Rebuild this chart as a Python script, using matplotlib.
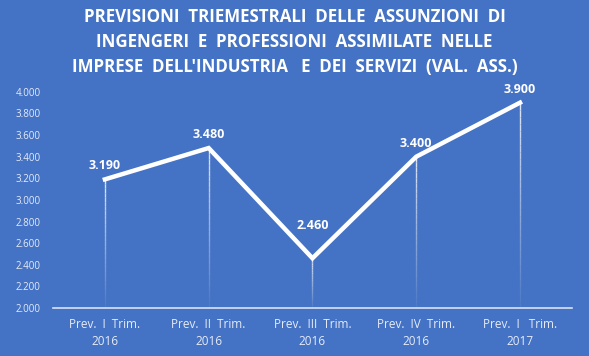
import numpy as np
import matplotlib.pyplot as plt

plt.rcParams['font.family'] = ['Open Sans', 'DejaVu Sans']

categories = ["Prev.  I  Trim.\n2016", "Prev.  II  Trim.\n2016", "Prev.  III  Trim.\n2016",
              "Prev.  IV  Trim.\n2016", "Prev.  I   Trim.\n2017"]
values = [3190, 3480, 2460, 3400, 3900]
labels = ["3.190", "3.480", "2.460", "3.400", "3.900"]
label_offsets = [5, 5, 19, 5, 5]
yticks = [2000, 2200, 2400, 2600, 2800, 3000, 3200, 3400, 3600, 3800, 4000]

bg = "#4472C4"
title = ("PREVISIONI  TRIEMESTRALI  DELLE  ASSUNZIONI  DI\n"
         "INGENGERI  E  PROFESSIONI  ASSIMILATE  NELLE\n"
         "IMPRESE  DELL'INDUSTRIA   E  DEI  SERVIZI  (VAL.  ASS.)")

fig = plt.figure(figsize=(5.89, 3.56), dpi=100, facecolor=bg)
ax = fig.add_axes([0.09, 0.135, 0.881, 0.607], facecolor=bg)

x = np.arange(len(values))

# drop lines, fading towards the axis
for xi, v in zip(x, values):
    ys = np.linspace(2000, v, 30)
    for k in range(len(ys) - 1):
        a = 0.05 + 0.8 * k / (len(ys) - 1)
        ax.plot([xi, xi], [ys[k], ys[k + 1]], color="white", lw=1.0, alpha=a,
                solid_capstyle="butt", zorder=1)

ax.plot(x, values, color="white", lw=3.2, zorder=3, solid_joinstyle="miter")

for xi, v, lab, off in zip(x, values, labels, label_offsets):
    ax.annotate(lab, (xi, v), xytext=(0, off), textcoords="offset points",
                ha="center", va="bottom", color="white", fontsize=9,
                fontweight="bold", zorder=4)

ax.set_xlim(-0.5, len(values) - 0.5)
ax.set_ylim(2000, 4000)
ax.set_yticks(yticks)
ax.set_yticklabels([f"{t:,}".replace(",", ".") for t in yticks])
ax.set_xticks(x)
ax.set_xticklabels(categories, linespacing=1.45)

for s in ["top", "right", "left"]:
    ax.spines[s].set_visible(False)
ax.spines["bottom"].set_color("#d9e2f3")
ax.spines["bottom"].set_linewidth(1.2)
ax.tick_params(axis="both", length=0, colors="#e6ecf7")
ax.tick_params(axis="y", labelsize=7, pad=9)
ax.tick_params(axis="x", labelsize=8.5, pad=7)

fig.text(0.5, 0.883, title, ha="center", va="center", color="white",
         fontsize=12.2, fontweight="bold", linespacing=1.5)

fig.savefig("out.png", dpi=100, facecolor=bg)
